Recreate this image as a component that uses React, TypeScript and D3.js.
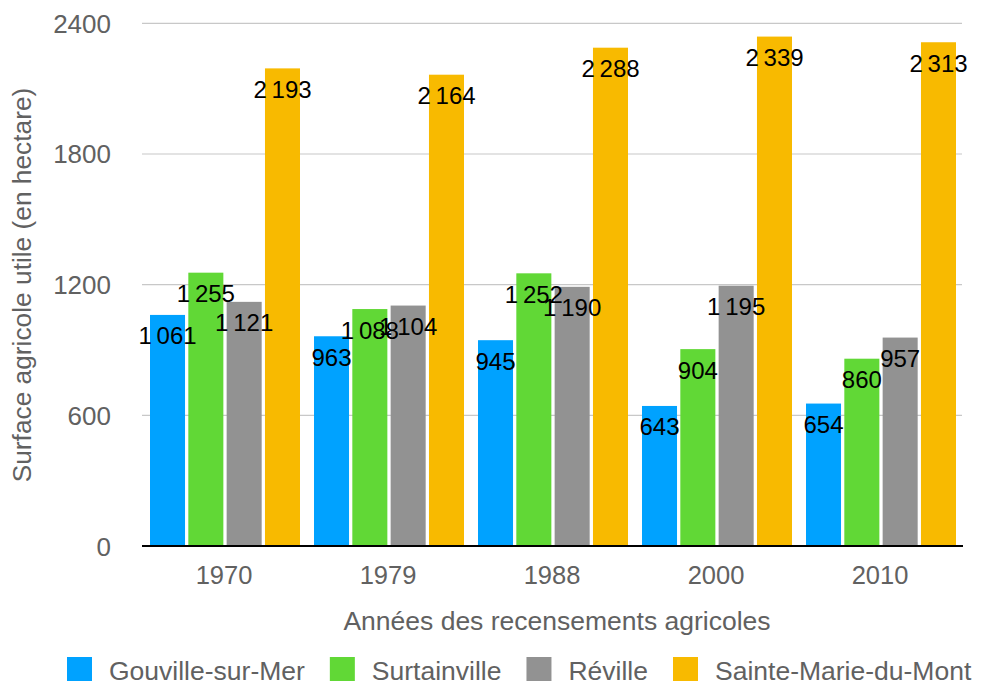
import React, { useEffect, useRef } from 'react';
import * as d3 from 'd3';

const years = ['1970', '1979', '1988', '2000', '2010'];
const communes = ['Gouville-sur-Mer', 'Surtainville', 'Réville', 'Sainte-Marie-du-Mont'];
const colors = ['#00A2FF', '#61D836', '#929292', '#F8BA00'];
const gouville = [1061, 963, 945, 643, 654];
const surtainville = [1255, 1088, 1252, 904, 860];
const reville = [1121, 1104, 1190, 1195, 957];
const sainteMarie = [2193, 2164, 2288, 2339, 2313];
const yTicks = [0, 600, 1200, 1800, 2400];

const FONT = '"Helvetica Neue", Helvetica, "Liberation Sans", Arial, sans-serif';

const App = () => {
  const ref = useRef<SVGSVGElement>(null);

  useEffect(() => {
    const svg = d3.select(ref.current);
    svg.selectAll('*').remove();

    const series = [gouville, surtainville, reville, sainteMarie];
    const fr = d3.formatLocale({ decimal: ',', thousands: '\u2009', grouping: [3], currency: ['', ' €'] });
    const fmt = fr.format(',d');

    // plot area
    const left = 142, right = 962, top = 23.3, bottom = 546;

    const x0 = d3.scaleBand().domain(years).range([left, right]).padding(0);
    const x1 = d3.scaleBand()
      .domain(communes)
      .range([8, x0.bandwidth() - 6])
      .paddingInner(0.086)
      .paddingOuter(0);
    const y = d3.scaleLinear().domain([0, 2400]).range([bottom, top]);

    // grid
    svg.append('g')
      .selectAll('line')
      .data(yTicks.filter(d => d > 0))
      .join('line')
      .attr('x1', left)
      .attr('x2', right)
      .attr('y1', d => y(d))
      .attr('y2', d => y(d))
      .attr('stroke', '#c8c8c8')
      .attr('stroke-width', 1.2);

    // y tick labels
    svg.append('g')
      .selectAll('text')
      .data(yTicks)
      .join('text')
      .attr('x', 111)
      .attr('y', d => y(d) + 9.5)
      .attr('text-anchor', 'end')
      .attr('font-family', FONT)
      .attr('font-size', 26)
      .attr('fill', '#616161')
      .text(d => d);

    // bars
    const groups = svg.append('g')
      .selectAll('g')
      .data(years)
      .join('g')
      .attr('transform', d => `translate(${x0(d)},0)`);

    groups.selectAll('rect')
      .data((d, i) => communes.map((c, j) => ({ c, j, v: series[j][i] })))
      .join('rect')
      .attr('x', d => x1(d.c)!)
      .attr('width', x1.bandwidth())
      .attr('y', d => y(d.v))
      .attr('height', d => bottom - y(d.v))
      .attr('fill', d => colors[d.j]);

    // value labels
    groups.selectAll('text')
      .data((d, i) => communes.map((c, j) => ({ c, j, v: series[j][i] })))
      .join('text')
      .attr('x', d => x1(d.c)! + x1.bandwidth() / 2)
      .attr('y', d => y(d.v) + 29.5)
      .attr('text-anchor', 'middle')
      .attr('font-family', FONT)
      .attr('font-size', 24)
      .attr('fill', '#000')
      .text(d => fmt(d.v));

    // baseline
    svg.append('line')
      .attr('x1', left)
      .attr('x2', right + 1)
      .attr('y1', bottom)
      .attr('y2', bottom)
      .attr('stroke', '#000')
      .attr('stroke-width', 2);

    // year labels
    svg.append('g')
      .selectAll('text')
      .data(years)
      .join('text')
      .attr('x', d => x0(d)! + x0.bandwidth() / 2)
      .attr('y', 584)
      .attr('text-anchor', 'middle')
      .attr('font-family', FONT)
      .attr('font-size', 25.5)
      .attr('fill', '#616161')
      .text(d => d);

    // axis titles
    svg.append('text')
      .attr('x', 557)
      .attr('y', 630)
      .attr('text-anchor', 'middle')
      .attr('font-family', FONT)
      .attr('font-size', 26.5)
      .attr('fill', '#616161')
      .text('Années des recensements agricoles');

    svg.append('text')
      .attr('transform', 'translate(31,285) rotate(-90)')
      .attr('text-anchor', 'middle')
      .attr('font-family', FONT)
      .attr('font-size', 26.3)
      .attr('fill', '#616161')
      .text('Surface agricole utile (en hectare)');

    // legend
    const legend = svg.append('g');
    let lx = 67;
    communes.forEach((c, i) => {
      legend.append('rect')
        .attr('x', lx)
        .attr('y', 657)
        .attr('width', 25)
        .attr('height', 24)
        .attr('fill', colors[i]);
      const t = legend.append('text')
        .attr('x', lx + 42)
        .attr('y', 680)
        .attr('font-family', FONT)
        .attr('font-size', 26.5)
        .attr('fill', '#616161')
        .text(c);
      const w = (t.node() as SVGTextElement).getComputedTextLength();
      lx = lx + 42 + w + 25;
    });
  }, []);

  return (
    <svg
      ref={ref}
      width={982}
      height={683}
      style={{ position: 'absolute', left: 0, top: 0, background: '#fff' }}
    />
  );
};

export default App;
